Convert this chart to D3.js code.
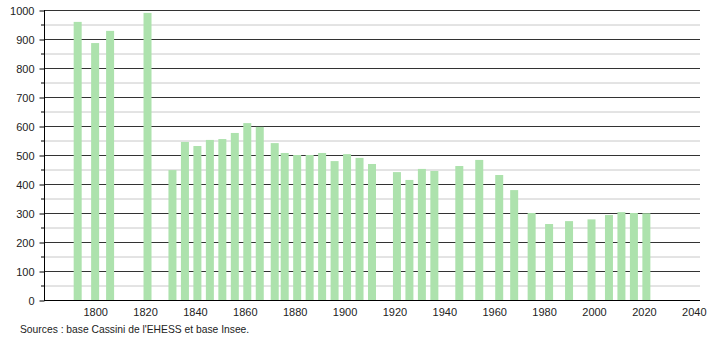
<!DOCTYPE html>
<html><head><meta charset="utf-8">
<script src="https://cdn.jsdelivr.net/npm/d3@7"></script>
<style>body{margin:0;background:#fff}svg{display:block}text{font-family:"Liberation Sans",Arial,sans-serif}</style>
</head><body><svg id="c" width="710" height="340"></svg>
<script>
const years = [1793,1800,1806,1821,1831,1836,1841,1846,1851,1856,1861,1866,1872,1876,1881,1886,1891,1896,1901,1906,1911,1921,1926,1931,1936,1946,1954,1962,1968,1975,1982,1990,1999,2006,2011,2016,2021];
const population = [959,886,928,990,448,545,531,552,555,576,610,597,541,507,500,500,507,479,503,490,469,441,414,452,445,462,483,431,379,300,262,272,278,293,303,300,299];
const xTicks = [1800,1820,1840,1860,1880,1900,1920,1940,1960,1980,2000,2020,2040];
const yTicks = [0,100,200,300,400,500,600,700,800,900,1000];
const yMinor = [50,150,250,350,450,550,650,750,850,950];
const source = "Sources : base Cassini de l'EHESS et base Insee.";

const svg = d3.select("#c");
const x = d3.scaleLinear().domain([1779.5,2042.5]).range([44,700]);
const y = d3.scaleLinear().domain([0,1000]).range([300,10]);

// minor gridlines
svg.append("g").selectAll("line").data(yMinor).join("line")
  .attr("x1",44).attr("x2",700).attr("y1",d=>y(d)+0.5).attr("y2",d=>y(d)+0.5)
  .attr("stroke","#c8c8c8").attr("stroke-width",1);
// major gridlines
svg.append("g").selectAll("line").data(yTicks.filter(d=>d>0)).join("line")
  .attr("x1",44).attr("x2",700).attr("y1",d=>y(d)+0.5).attr("y2",d=>y(d)+0.5)
  .attr("stroke","#333").attr("stroke-width",1);

// bars
const bw = 8;
svg.append("g").selectAll("rect").data(years).join("rect")
  .attr("x",(d)=>x(d)-bw/2).attr("width",bw)
  .attr("y",(d,i)=>y(population[i])).attr("height",(d,i)=>y(0)-y(population[i]))
  .attr("fill","#ade2ad");

// y axis
const ya = svg.append("g").attr("transform","translate(44.5,0.5)")
  .call(d3.axisLeft(y).tickValues(yTicks).tickSize(5).tickPadding(5).tickFormat(d3.format("d")));
ya.select(".domain").attr("stroke","#000");
ya.selectAll(".tick line").attr("stroke","#000");
ya.selectAll("text").attr("font-size",11).attr("fill","#222").attr("font-family","Liberation Sans, Arial, sans-serif");
ya.select(".domain").attr("d","M0,"+(y(1000)-0.5)+"V"+(y(0)-0.5));
svg.append("g").selectAll("line").data(yMinor).join("line")
  .attr("x1",41).attr("x2",44).attr("y1",d=>y(d)+0.5).attr("y2",d=>y(d)+0.5)
  .attr("stroke","#000");

// x axis
const xa = svg.append("g").attr("transform","translate(0,300.5)")
  .call(d3.axisBottom(x).tickValues(xTicks).tickSize(0).tickPadding(8).tickFormat(d3.format("d")));
xa.select(".domain").attr("stroke","#000").attr("d","M44,0H700");
xa.selectAll("text").attr("font-size",11).attr("fill","#222").attr("font-family","Liberation Sans, Arial, sans-serif");

svg.append("text").attr("x",20).attr("y",333).attr("font-size",10.3).attr("fill","#222").text(source);
</script></body></html>
